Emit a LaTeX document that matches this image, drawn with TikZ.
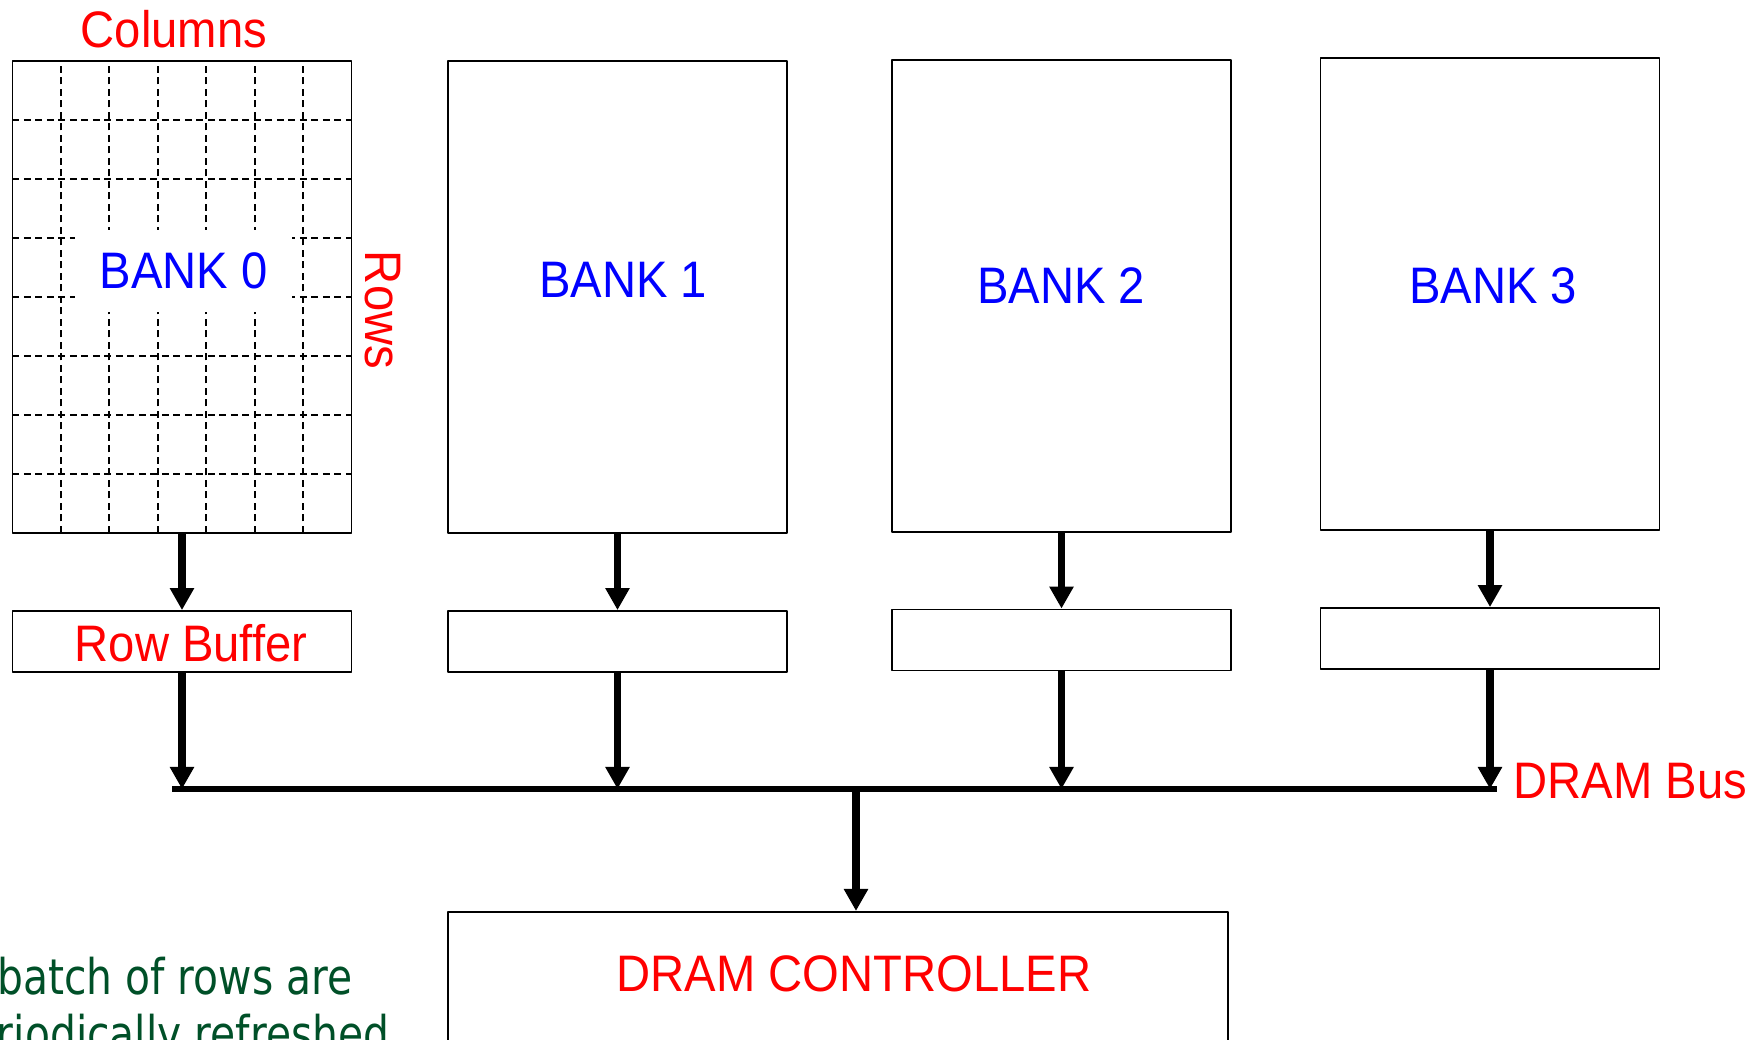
\documentclass[tikz,border=0pt]{standalone}
\usepackage{fontspec}
\setmainfont{Liberation Sans}[FakeStretch=0.92]
\newfontfamily\notefont{DejaVu Sans}[FakeStretch=0.83]
\usetikzlibrary{arrows.meta}
\definecolor{notegreen}{RGB}{0,80,40}
\begin{document}
\begin{tikzpicture}[line join=round,
    box/.style={draw, line width=0.5pt, inner sep=0pt},
    bankbox/.style={box, minimum width=3.39cm, minimum height=4.72cm},
    bufbox/.style={box, minimum width=3.39cm, minimum height=0.61cm},
    txt/.style={font=\fontsize{14.6}{17}\selectfont, inner sep=0pt},
    note/.style={font=\notefont\fontsize{14}{17}\selectfont, text=notegreen, inner sep=0pt},
    flow/.style={-{Triangle[width=0.23cm,length=0.22cm]}, line width=2.2pt},
    gridline/.style={dash pattern=on 0.07cm off 0.045cm, line width=0.6pt}]
    \useasboundingbox (0,0) rectangle (17.52,10.40);
    \clip (0,0) rectangle (17.52,10.40);
    % banks
    \node[bankbox] (bank0) at (1.82,7.43) {};
    \node[bankbox] (bank1) at (6.175,7.43) {};
    \node[bankbox] (bank2) at (10.615,7.44) {};
    \node[bankbox] (bank3) at (14.90,7.46) {};
    \foreach \x in {1,...,6} { \draw[gridline] (0.123+\x*0.485,5.07) -- (0.123+\x*0.485,9.785); }
    \foreach \y in {1,...,7} { \draw[gridline] (0.123,9.785-\y*0.589) -- (3.517,9.785-\y*0.589); }
    \node[txt, blue, fill=white, minimum width=2.17cm, minimum height=0.82cm] (lab0) at (1.835,7.69) {BANK 0};
    \node[txt, blue, anchor=base] (lab1) at (6.23,7.42) {BANK 1};
    \node[txt, blue, anchor=base] (lab2) at (10.61,7.36) {BANK 2};
    \node[txt, blue, anchor=base] (lab3) at (14.93,7.36) {BANK 3};
    \node[txt, red, anchor=base] (cols) at (1.74,9.92) {Columns};
    \node[txt, red, rotate=-90] (rows) at (3.83,7.30) {Rows};
    % row buffers
    \node[bufbox] (buf0) at (1.82,3.985) {};
    \node[bufbox] (buf1) at (6.175,3.985) {};
    \node[bufbox] (buf2) at (10.615,4.00) {};
    \node[bufbox] (buf3) at (14.90,4.015) {};
    \node[txt, red, anchor=base] (buftxt) at (1.91,3.78) {Row Buffer};
    \foreach \i in {0,...,3} { \draw[flow] (bank\i) -- (buf\i); }
    % bus
    \coordinate (busL) at (1.72,2.51);
    \coordinate (busR) at (14.97,2.51);
    \coordinate (busC) at (8.56,2.51);
    \draw[line width=1.9pt] (busL) -- (busR);
    \foreach \i in {0,...,3} { \draw[flow] (buf\i) -- (buf\i |- busL); }
    \node[txt, red, anchor=base west] (bustxt) at (15.13,2.41) {DRAM Bus};
    % controller
    \node[box, minimum width=7.80cm, minimum height=2cm, anchor=north] (ctrl) at (8.38,1.29) {};
    \node[txt, red, anchor=base] (ctrltxt) at (8.54,0.48) {DRAM CONTROLLER};
    \draw[flow] (busC) -- (busC |- ctrl.north);
    \node[note, anchor=base east] (note1) at (3.53,0.45) {batch of rows are};
    \node[note, anchor=base east] (note2) at (3.90,-0.12) {riodically refreshed};
\end{tikzpicture}
\end{document}
